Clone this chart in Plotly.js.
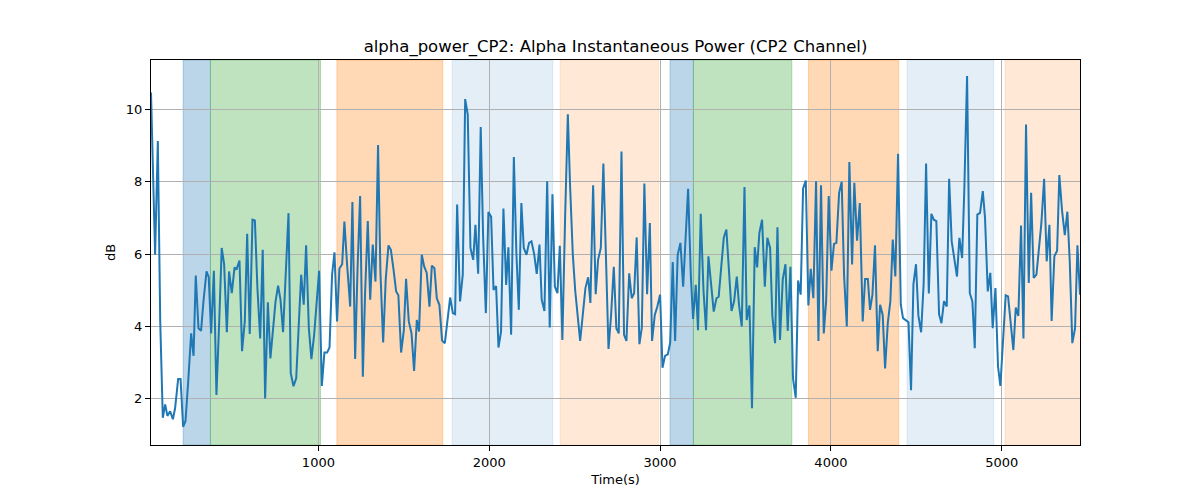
<!DOCTYPE html>
<html>
<head>
<meta charset="utf-8">
<script src="https://cdn.plot.ly/plotly-3.0.1.min.js"></script>
<style>
    body { margin: 0; background: #ffffff; }
    #chart { width: 1200px; height: 500px; }
</style>
</head>
<body>
<div id="chart"></div>
<script>
// Sample times (s) and alpha power (dB)
const timeSec = [
    20, 44, 60, 74, 89, 103, 116, 132, 148, 161, 179, 193, 208, 222, 239, 255, 269, 282, 298, 313,
    327, 345, 358, 372, 388, 403, 419, 434, 448, 464, 477, 493, 509, 520, 538, 553, 569, 583, 598, 614,
    628, 643, 659, 674, 688, 704, 719, 733, 749, 764, 778, 793, 809, 825, 838, 854, 870, 883, 899, 914,
    928, 944, 959, 975, 989, 1004, 1020, 1035, 1051, 1065, 1080, 1094, 1109, 1123, 1139, 1152, 1168, 1186, 1199, 1215,
    1229, 1244, 1260, 1273, 1289, 1303, 1318, 1334, 1349, 1363, 1379, 1394, 1410, 1424, 1439, 1455, 1468, 1484, 1500, 1513,
    1529, 1545, 1560, 1576, 1589, 1605, 1619, 1634, 1650, 1664, 1679, 1693, 1708, 1724, 1740, 1753, 1771, 1787, 1800, 1812,
    1829, 1845, 1859, 1874, 1890, 1906, 1919, 1935, 1950, 1964, 1980, 1995, 2011, 2025, 2040, 2054, 2069, 2083, 2099, 2112,
    2128, 2144, 2159, 2173, 2188, 2202, 2218, 2233, 2247, 2263, 2278, 2294, 2307, 2323, 2339, 2354, 2370, 2384, 2399, 2413,
    2428, 2444, 2460, 2473, 2489, 2503, 2518, 2532, 2547, 2563, 2579, 2592, 2608, 2623, 2637, 2653, 2668, 2684, 2698, 2713,
    2729, 2744, 2758, 2774, 2789, 2803, 2819, 2834, 2848, 2863, 2879, 2893, 2908, 2924, 2940, 2953, 2969, 2984, 3000, 3014,
    3029, 3045, 3059, 3074, 3088, 3103, 3119, 3135, 3148, 3164, 3180, 3193, 3209, 3222, 3238, 3254, 3269, 3283, 3298, 3314,
    3330, 3343, 3359, 3373, 3388, 3404, 3418, 3433, 3449, 3462, 3478, 3494, 3507, 3523, 3538, 3554, 3568, 3581, 3597, 3613,
    3628, 3644, 3657, 3673, 3687, 3702, 3718, 3734, 3747, 3763, 3778, 3794, 3808, 3823, 3837, 3853, 3868, 3882, 3897, 3913,
    3927, 3942, 3958, 3972, 3987, 4003, 4018, 4032, 4048, 4063, 4077, 4093, 4108, 4124, 4137, 4153, 4169, 4186, 4200, 4216,
    4229, 4243, 4258, 4274, 4288, 4303, 4317, 4333, 4348, 4362, 4377, 4393, 4409, 4422, 4438, 4454, 4469, 4483, 4498, 4512,
    4528, 4543, 4557, 4573, 4588, 4602, 4617, 4633, 4647, 4662, 4678, 4692, 4707, 4723, 4738, 4752, 4768, 4781, 4797, 4813,
    4828, 4842, 4857, 4873, 4889, 4902, 4918, 4933, 4947, 4963, 4978, 4992, 5008, 5023, 5037, 5053, 5068, 5082, 5097, 5113,
    5127, 5142, 5158, 5172, 5187, 5203, 5218, 5232, 5248, 5263, 5279, 5292, 5308, 5324, 5337, 5353, 5369, 5384, 5398, 5413,
    5429, 5443, 5458
];
const powerDb = [
    10.46, 5.98, 9.12, 4.14, 1.48, 1.85, 1.53, 1.66, 1.44, 1.74, 2.55, 2.55, 1.23, 1.39, 2.57, 3.81, 3.19, 5.41, 3.95, 3.88,
    4.69, 5.52, 5.36, 3.81, 5.54, 2.11, 4.10, 6.17, 5.72, 3.84, 5.52, 4.92, 5.63, 5.57, 5.82, 3.32, 4.14, 6.56, 3.79, 6.95,
    6.93, 5.06, 3.67, 6.12, 2.01, 4.67, 3.12, 3.86, 4.69, 5.13, 4.74, 3.84, 5.60, 7.13, 2.71, 2.35, 2.57, 3.95, 5.43, 4.60,
    6.24, 3.95, 3.10, 3.77, 4.69, 5.54, 2.36, 3.28, 3.28, 3.42, 5.43, 6.05, 4.14, 5.60, 5.72, 6.90, 5.70, 4.55, 7.44, 3.10,
    5.60, 7.60, 2.61, 4.90, 6.91, 4.74, 6.26, 5.24, 9.01, 5.50, 3.56, 5.30, 6.24, 6.12, 5.60, 4.97, 4.86, 3.28, 3.90, 5.32,
    4.14, 3.81, 2.77, 4.18, 3.86, 5.98, 5.66, 5.48, 4.55, 5.68, 5.61, 4.78, 4.60, 3.61, 3.54, 4.10, 4.80, 4.37, 4.34, 7.37,
    4.69, 5.43, 10.28, 9.86, 6.17, 5.84, 6.81, 5.46, 9.51, 6.50, 4.37, 7.16, 7.03, 5.01, 5.12, 3.42, 3.86, 7.26, 5.15, 6.19,
    3.77, 8.68, 6.00, 4.46, 7.41, 6.17, 5.98, 6.31, 6.35, 6.00, 5.45, 6.26, 4.74, 4.43, 8.01, 3.97, 7.65, 5.10, 4.92, 6.23,
    3.63, 7.00, 9.86, 7.90, 6.00, 5.00, 4.20, 3.60, 4.30, 5.06, 5.36, 4.65, 7.90, 4.89, 5.84, 6.17, 8.50, 5.50, 3.38, 4.30,
    5.65, 3.95, 3.81, 8.83, 3.77, 3.60, 5.47, 4.78, 4.92, 6.46, 3.51, 3.97, 7.95, 4.89, 6.86, 3.60, 4.32, 4.55, 4.88, 2.86,
    3.19, 3.23, 3.55, 5.78, 3.60, 5.98, 6.31, 5.10, 6.30, 7.80, 5.40, 4.21, 5.15, 3.90, 7.11, 5.00, 3.90, 5.94, 5.20, 4.41,
    4.78, 4.82, 5.70, 6.46, 6.68, 5.60, 4.43, 4.69, 5.38, 4.60, 4.00, 7.85, 4.18, 4.58, 1.74, 6.19, 5.63, 6.58, 6.95, 5.10,
    6.45, 6.17, 4.30, 3.54, 6.74, 3.63, 5.30, 5.72, 3.88, 5.65, 2.57, 2.03, 5.27, 4.88, 7.81, 8.03, 4.58, 5.59, 4.78, 8.01,
    3.60, 7.90, 3.81, 4.70, 7.60, 5.54, 6.28, 6.31, 7.69, 8.00, 5.40, 4.00, 8.54, 5.71, 7.97, 6.37, 7.41, 4.14, 5.31, 5.31,
    4.46, 4.88, 6.24, 3.32, 4.60, 4.32, 2.84, 4.10, 4.70, 6.40, 5.38, 8.77, 4.60, 4.23, 4.18, 4.12, 2.24, 5.17, 5.72, 4.30,
    3.84, 5.20, 8.50, 4.91, 7.11, 6.95, 6.91, 4.34, 4.09, 4.70, 4.55, 8.08, 6.35, 5.80, 5.38, 6.45, 5.89, 7.80, 10.92, 4.92,
    4.69, 3.40, 7.09, 7.14, 7.74, 7.00, 4.97, 5.48, 3.95, 5.06, 2.90, 2.36, 3.50, 4.86, 4.83, 4.10, 3.35, 4.52, 4.29, 6.79,
    3.67, 9.58, 5.20, 7.69, 5.34, 5.43, 6.30, 6.86, 8.08, 5.80, 6.81, 4.15, 5.94, 6.09, 8.18, 7.20, 6.52, 7.17, 5.80, 3.54,
    3.95, 6.24, 4.88
];

// Shaded phases: start, end and kind
const phaseStart = [208, 368, 1108, 1783, 2415, 3058, 3195, 3868, 4446, 5019];
const phaseEnd = [368, 1012, 1728, 2372, 2992, 3195, 3771, 4397, 4953, 5470];
const phaseKind = ['blue', 'green', 'orange', 'paleblue', 'paleorange', 'blue', 'green', 'orange', 'paleblue', 'paleorange'];

const phaseColors = {
    blue: 'rgba(31, 119, 180, 0.3)',
    green: 'rgba(44, 160, 44, 0.3)',
    orange: 'rgba(255, 127, 14, 0.3)',
    paleblue: 'rgba(31, 119, 180, 0.12)',
    paleorange: 'rgba(255, 127, 14, 0.17)'
};

const shapes = phaseStart.map((s, i) => ({
    type: 'rect',
    xref: 'x',
    yref: 'paper',
    x0: s,
    x1: phaseEnd[i],
    y0: 0,
    y1: 1,
    fillcolor: phaseColors[phaseKind[i]],
    line: { width: 1, color: phaseColors[phaseKind[i]] },
    layer: 'below'
}));

const traces = [{
    x: timeSec,
    y: powerDb,
    type: 'scatter',
    mode: 'lines',
    line: { color: '#1f77b4', width: 2 },
    hoverinfo: 'x+y'
}];

const axisStyle = {
    showline: true,
    linecolor: '#000000',
    linewidth: 1,
    mirror: true,
    ticks: 'outside',
    ticklen: 5,
    tickcolor: '#000000',
    showgrid: true,
    gridcolor: '#b0b0b0',
    gridwidth: 1,
    zeroline: false,
    tickfont: { size: 13, color: '#000000' }
};

const layout = {
    width: 1200,
    height: 500,
    title: {
        text: 'alpha_power_CP2: Alpha Instantaneous Power (CP2 Channel)',
        font: { size: 16.5, color: '#000000' },
        x: 0.5,
        xref: 'paper',
        y: 0.907,
        yanchor: 'middle'
    },
    xaxis: Object.assign({}, axisStyle, {
        range: [20, 5458],
        tickvals: [1000, 2000, 3000, 4000, 5000],
        title: { text: 'Time(s)', font: { size: 13, color: '#000000' }, standoff: 6 }
    }),
    yaxis: Object.assign({}, axisStyle, {
        range: [0.727, 11.36],
        tickvals: [2, 4, 6, 8, 10],
        title: { text: 'dB', font: { size: 13, color: '#000000' }, standoff: 7 }
    }),
    shapes: shapes,
    showlegend: false,
    margin: { t: 60, r: 120, b: 55, l: 151 },
    plot_bgcolor: '#ffffff',
    paper_bgcolor: '#ffffff',
    font: { family: 'DejaVu Sans, sans-serif', color: '#000000' }
};

Plotly.newPlot('chart', traces, layout, { displayModeBar: false, staticPlot: true });
</script>
</body>
</html>
